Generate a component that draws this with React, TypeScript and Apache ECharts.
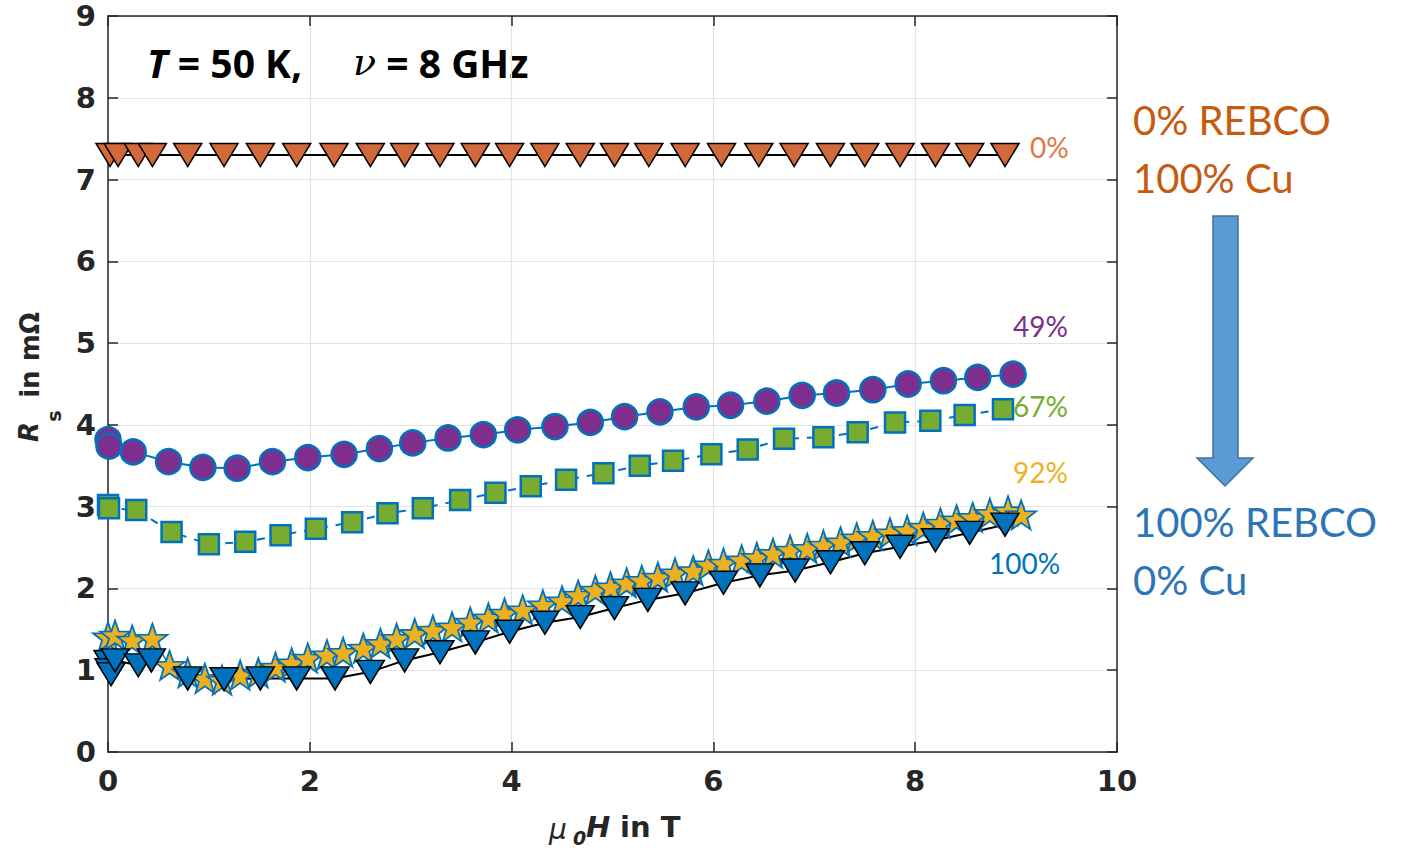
import { useEffect, useRef } from "react";
import * as echarts from "echarts";

// Field values (mu0 H in T) and surface resistance (m-Ohm)
const h0 = [0.02, 0.1, 0.3, 0.44, 0.79, 1.15, 1.51, 1.87, 2.24, 2.6, 2.94, 3.29, 3.64, 3.98, 4.33, 4.68, 5.02, 5.36, 5.72, 6.08, 6.45, 6.8, 7.16, 7.5, 7.85, 8.2, 8.54, 8.89];
const rs0 = [7.3, 7.3, 7.3, 7.3, 7.3, 7.3, 7.3, 7.3, 7.3, 7.3, 7.3, 7.3, 7.3, 7.3, 7.3, 7.3, 7.3, 7.3, 7.3, 7.3, 7.3, 7.3, 7.3, 7.3, 7.3, 7.3, 7.3, 7.3];

const h49 = [0, 0.01, 0.25, 0.6, 0.94, 1.28, 1.63, 1.98, 2.34, 2.69, 3.02, 3.37, 3.72, 4.06, 4.43, 4.78, 5.12, 5.47, 5.83, 6.17, 6.53, 6.88, 7.22, 7.58, 7.93, 8.28, 8.62, 8.97];
const rs49 = [3.82, 3.74, 3.67, 3.55, 3.48, 3.47, 3.55, 3.6, 3.64, 3.71, 3.78, 3.84, 3.88, 3.94, 3.98, 4.03, 4.1, 4.16, 4.22, 4.24, 4.29, 4.36, 4.39, 4.43, 4.5, 4.54, 4.58, 4.62];

const h67 = [0, 0.01, 0.28, 0.63, 1.0, 1.36, 1.71, 2.06, 2.42, 2.77, 3.12, 3.49, 3.84, 4.19, 4.54, 4.91, 5.27, 5.6, 5.98, 6.34, 6.7, 7.09, 7.43, 7.8, 8.15, 8.49, 8.87];
const rs67 = [3.02, 2.98, 2.96, 2.69, 2.54, 2.57, 2.65, 2.73, 2.81, 2.92, 2.98, 3.08, 3.17, 3.25, 3.33, 3.41, 3.5, 3.56, 3.64, 3.7, 3.83, 3.85, 3.91, 4.03, 4.05, 4.12, 4.19];

const h92 = [0, 0.07, 0.24, 0.44, 0.61, 0.79, 0.96, 1.13, 1.31, 1.49, 1.66, 1.82, 1.98, 2.17, 2.33, 2.53, 2.7, 2.86, 3.04, 3.22, 3.41, 3.59, 3.77, 3.93, 4.11, 4.31, 4.5, 4.66, 4.83, 4.98, 5.14, 5.29, 5.45, 5.62, 5.8, 5.95, 6.1, 6.28, 6.43, 6.59, 6.76, 6.93, 7.09, 7.26, 7.42, 7.58, 7.75, 7.92, 8.08, 8.25, 8.41, 8.57, 8.74, 8.92, 9.05];
const rs92 = [1.41, 1.43, 1.37, 1.39, 1.06, 0.97, 0.9, 0.88, 0.94, 0.97, 1.04, 1.09, 1.15, 1.19, 1.22, 1.27, 1.33, 1.39, 1.45, 1.49, 1.53, 1.59, 1.64, 1.7, 1.74, 1.8, 1.85, 1.92, 1.98, 2.02, 2.07, 2.1, 2.14, 2.19, 2.22, 2.29, 2.31, 2.35, 2.38, 2.43, 2.47, 2.49, 2.53, 2.57, 2.62, 2.65, 2.68, 2.71, 2.75, 2.8, 2.84, 2.87, 2.92, 2.95, 2.9];

const h100 = [0, 0.01, 0.03, 0.07, 0.3, 0.43, 0.79, 1.15, 1.51, 1.87, 2.25, 2.6, 2.94, 3.29, 3.64, 3.98, 4.33, 4.68, 5.02, 5.35, 5.72, 6.1, 6.46, 6.81, 7.16, 7.5, 7.85, 8.2, 8.54, 8.89];
const rs100 = [1.1, 1.0, 0.95, 1.12, 1.06, 1.12, 0.9, 0.89, 0.9, 0.9, 0.9, 0.98, 1.12, 1.22, 1.34, 1.47, 1.58, 1.65, 1.76, 1.86, 1.94, 2.07, 2.16, 2.22, 2.32, 2.43, 2.51, 2.59, 2.68, 2.78];

const seriesLabels = ["0%", "49%", "67%", "92%", "100%"];

const STAR = "path://M0,-10 L2.35,-3.24 L9.51,-3.09 L3.8,1.24 L5.88,8.09 L0,4 L-5.88,8.09 L-3.8,1.24 L-9.51,-3.09 L-2.35,-3.24 Z";

function pairs(xs: number[], ys: number[]) {
  return xs.map((x, i) => [x, ys[i]]);
}

const AX = "#262626";
const TICKFONT = { fontFamily: "DejaVu Sans", fontWeight: "bold" as const, fontSize: 29, color: AX };

export default function App() {
  const ref = useRef<HTMLDivElement>(null);
  useEffect(() => {
    const chart = echarts.init(ref.current!, null, { renderer: "svg" });
    const baseAxis = {
      type: "value" as const,
      axisLine: { show: true, onZero: false, lineStyle: { color: AX, width: 1.5 } },
      axisTick: { show: true, inside: true, length: 10, lineStyle: { color: AX, width: 1.5 } },
    };
    chart.setOption({
      animation: false,
      backgroundColor: "#ffffff",
      grid: { left: 108, top: 16, width: 1009, height: 736, containLabel: false },
      xAxis: [
        {
          ...baseAxis,
          min: 0, max: 10, interval: 2,
          position: "bottom",
          axisLabel: { ...TICKFONT, margin: 14 },
          splitLine: { show: true, lineStyle: { color: "#e3e3e3", width: 1.2 } },
        },
        {
          ...baseAxis,
          min: 0, max: 10, interval: 2,
          position: "top",
          axisLabel: { show: false },
          splitLine: { show: false },
        },
      ],
      yAxis: [
        {
          ...baseAxis,
          min: 0, max: 9, interval: 1,
          position: "left",
          axisLabel: { ...TICKFONT, margin: 12 },
          splitLine: { show: true, lineStyle: { color: "#e3e3e3", width: 1.2 } },
        },
        {
          ...baseAxis,
          min: 0, max: 9, interval: 1,
          position: "right",
          axisLabel: { show: false },
          splitLine: { show: false },
        },
      ],
      series: [
        {
          name: seriesLabels[0], type: "line", data: pairs(h0, rs0),
          symbol: "triangle", symbolRotate: 180, symbolSize: [28, 23],
          lineStyle: { color: "#000", width: 2 },
          itemStyle: { color: "#D2693B", borderColor: "#000", borderWidth: 1.5 },
        },
        {
          name: seriesLabels[1], type: "line", data: pairs(h49, rs49),
          symbol: "circle", symbolSize: 25,
          lineStyle: { color: "#0072BD", width: 2 },
          itemStyle: { color: "#7E2F8E", borderColor: "#0072BD", borderWidth: 2.5 },
        },
        {
          name: seriesLabels[2], type: "line", data: pairs(h67, rs67),
          symbol: "rect", symbolSize: 20,
          lineStyle: { color: "#0072BD", width: 2, type: [8, 8] },
          itemStyle: { color: "#77AC30", borderColor: "#0072BD", borderWidth: 2.5 },
        },
        {
          name: seriesLabels[3], type: "line", data: pairs(h92, rs92),
          symbol: STAR, symbolSize: [30, 29],
          lineStyle: { color: "#0072BD", width: 1.5 },
          itemStyle: { color: "#EDB120", borderColor: "#0072BD", borderWidth: 1.8 },
        },
        {
          name: seriesLabels[4], type: "line", data: pairs(h100, rs100),
          symbol: "triangle", symbolRotate: 180, symbolSize: [28, 23],
          lineStyle: { color: "#000", width: 2 },
          itemStyle: { color: "#0072BD", borderColor: "#000", borderWidth: 1.5 },
        },
      ],
      graphic: [
        // title
        {
          type: "text", x: 147, y: 62,
          style: {
            text: "{i|T}{b| = 50 K,}",
            verticalAlign: "middle",
            rich: {
              i: { fontFamily: "Noto Sans", fontWeight: "bold", fontStyle: "italic", fontSize: 39, fill: "#000" },
              b: { fontFamily: "Noto Sans", fontWeight: "bold", fontSize: 39, fill: "#000" },
            },
          },
        },
        {
          type: "text", x: 353, y: 62,
          style: {
            text: "{i|ν}{b| = 8 GHz}",
            verticalAlign: "middle",
            rich: {
              i: { fontFamily: "DejaVu Serif", fontStyle: "italic", fontSize: 38, fill: "#000" },
              b: { fontFamily: "Noto Sans", fontWeight: "bold", fontSize: 39, fill: "#000" },
            },
          },
        },
        // series labels
        { type: "text", x: 1030, y: 147, style: { text: seriesLabels[0], fontFamily: "Lato", fontSize: 28, fill: "#E2774A", verticalAlign: "middle" } },
        { type: "text", x: 1013, y: 326, style: { text: seriesLabels[1], fontFamily: "Lato", fontSize: 28, fill: "#7E2F8E", verticalAlign: "middle" } },
        { type: "text", x: 1013, y: 406, style: { text: seriesLabels[2], fontFamily: "Lato", fontSize: 28, fill: "#77AC30", verticalAlign: "middle" } },
        { type: "text", x: 1013, y: 472, style: { text: seriesLabels[3], fontFamily: "Lato", fontSize: 28, fill: "#EDB120", verticalAlign: "middle" } },
        { type: "text", x: 989, y: 563, style: { text: seriesLabels[4], fontFamily: "Lato", fontSize: 28, fill: "#0072BD", verticalAlign: "middle" } },
        // right annotations
        { type: "text", x: 1133, y: 120, style: { text: "0% REBCO", fontFamily: "Lato", fontSize: 40, fill: "#C55A11", verticalAlign: "middle" } },
        { type: "text", x: 1133, y: 178, style: { text: "100% Cu", fontFamily: "Lato", fontSize: 40, fill: "#C55A11", verticalAlign: "middle" } },
        { type: "text", x: 1133, y: 522, style: { text: "100% REBCO", fontFamily: "Lato", fontSize: 40, fill: "#2E75B6", verticalAlign: "middle" } },
        { type: "text", x: 1133, y: 580, style: { text: "0% Cu", fontFamily: "Lato", fontSize: 40, fill: "#2E75B6", verticalAlign: "middle" } },
        {
          type: "polygon",
          shape: { points: [[1213, 216], [1238, 216], [1238, 458], [1253, 458], [1225, 486], [1197, 458], [1213, 458]] },
          style: { fill: "#5B9BD5", stroke: "#41719C", lineWidth: 1.5 },
        },
        // y axis name
        { type: "text", x: 29, y: 432, rotation: Math.PI / 2, style: { text: "R", fontFamily: "DejaVu Sans", fontWeight: "bold", fontStyle: "italic", fontSize: 26, fill: AX, align: "center", verticalAlign: "middle" } },
        { type: "text", x: 54, y: 416, rotation: Math.PI / 2, style: { text: "s", fontFamily: "DejaVu Sans", fontWeight: "bold", fontSize: 19, fill: AX, align: "center", verticalAlign: "middle" } },
        { type: "text", x: 30, y: 355, rotation: Math.PI / 2, style: { text: "in mΩ", fontFamily: "DejaVu Sans", fontWeight: "bold", fontSize: 26, fill: AX, align: "center", verticalAlign: "middle" } },
        // x axis name
        { type: "text", x: 549, y: 829, style: { text: "μ", fontFamily: "DejaVu Sans", fontStyle: "italic", fontSize: 28, fill: AX, verticalAlign: "middle" } },
        { type: "text", x: 573, y: 838, style: { text: "0", fontFamily: "DejaVu Sans", fontWeight: "bold", fontStyle: "italic", fontSize: 19, fill: AX, verticalAlign: "middle" } },
        { type: "text", x: 586, y: 827, style: { text: "H", fontFamily: "DejaVu Sans", fontWeight: "bold", fontStyle: "italic", fontSize: 29, fill: AX, verticalAlign: "middle" } },
        { type: "text", x: 620, y: 827, style: { text: "in T", fontFamily: "DejaVu Sans", fontWeight: "bold", fontSize: 29, fill: AX, verticalAlign: "middle" } },
      ],
    });
    return () => chart.dispose();
  }, []);
  return (
    <div
      ref={ref}
      style={{ position: "fixed", left: 0, top: 0, width: 1411, height: 851, background: "#fff" }}
    />
  );
}
